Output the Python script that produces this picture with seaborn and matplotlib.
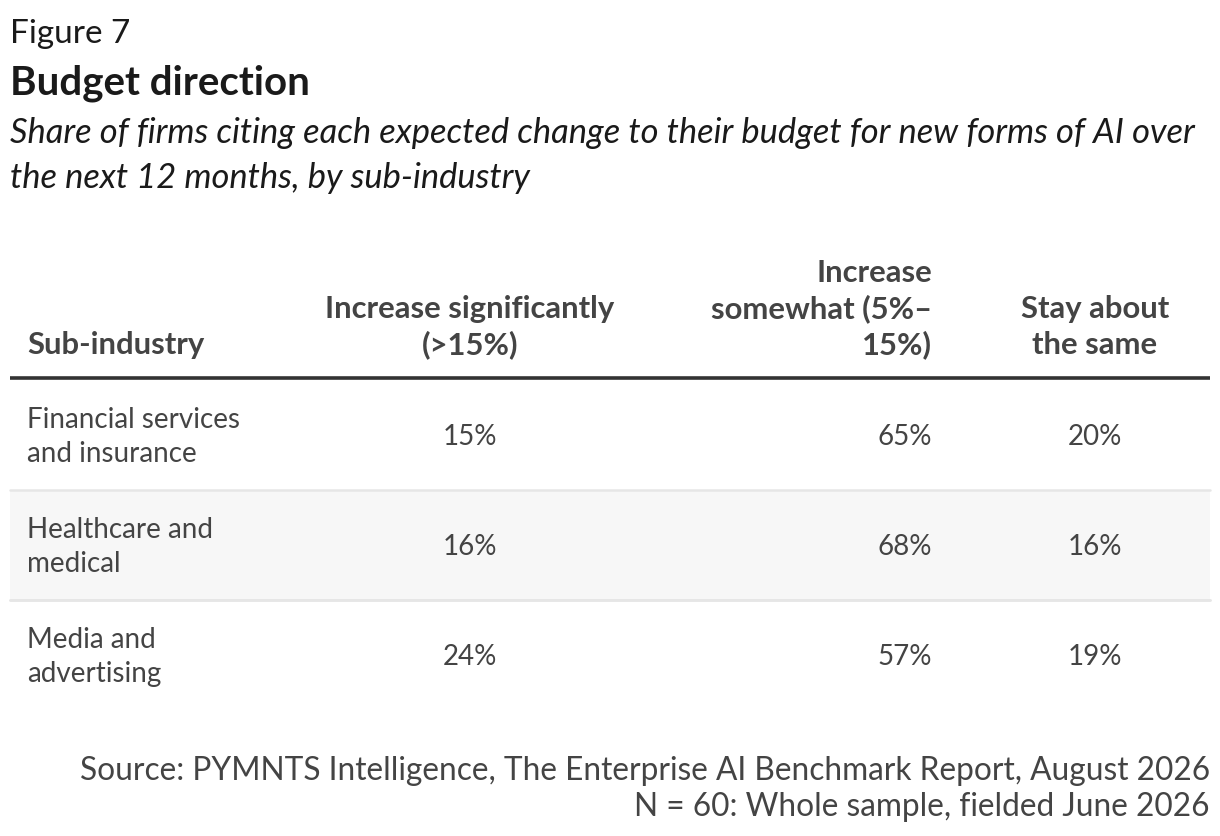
import matplotlib
matplotlib.use("Agg")
import matplotlib.pyplot as plt
import pandas as pd
import seaborn as sns

# table contents
sub_industries = ["Financial services\nand insurance", "Healthcare and\nmedical", "Media and\nadvertising"]
increase_significantly = [15, 16, 24]
increase_somewhat = [65, 68, 57]
stay_same = [20, 16, 19]
column_headers = ["Sub-industry", "Increase significantly\n(>15%)", "Increase\nsomewhat (5%–\n15%)", "Stay about\nthe same"]

fig_label = "Figure 7"
title = "Budget direction"
subtitle = ["Share of firms citing each expected change to their budget for new forms of AI over",
            "the next 12 months, by sub-industry"]
source = ["Source: PYMNTS Intelligence, The Enterprise AI Benchmark Report, August 2026",
          "N = 60: Whole sample, fielded June 2026"]

df = pd.DataFrame({
    "sub_industry": sub_industries,
    "significantly": increase_significantly,
    "somewhat": increase_somewhat,
    "same": stay_same,
})

sns.set_theme(style="white")
plt.rcParams["font.family"] = ["Lato", "DejaVu Sans"]

TITLE_C = "#1a1a1a"
TEXT_C = "#444444"

fig = plt.figure(figsize=(12.2, 8.36), dpi=100)
ax = fig.add_axes([0, 0, 1, 1])
ax.set_xlim(0, 1220)
ax.set_ylim(836, 0)
ax.axis("off")

# header block
ax.text(10, 34, fig_label, fontsize=24, color=TITLE_C, va="center", ha="left")
ax.text(10, 83, title, fontsize=29, fontweight="bold", color=TITLE_C, va="center", ha="left")
for i, line in enumerate(subtitle):
    ax.text(10, 133 + i * 45, line, fontsize=24.8, style="italic", color=TITLE_C, va="center", ha="left")

# column layout: (x, ha)
cols = [(27, "left"), (470, "center"), (932, "right"), (1095, "center")]
header_bottom = 345
header_step = 36
for (x, ha), head in zip(cols, column_headers):
    lines = head.split("\n")
    for j, line in enumerate(lines):
        y = header_bottom - (len(lines) - 1 - j) * header_step
        ax.text(x, y, line, fontsize=22.3, fontweight="bold", color=TEXT_C, va="center", ha=ha)

ax.plot([10, 1210], [378, 378], color="#333333", lw=2.6, solid_capstyle="butt")

# body rows
row_top = 380
row_h = 110
for r, row in df.iterrows():
    top = row_top + r * row_h
    mid = top + row_h / 2 + 2
    if r % 2 == 1:
        ax.fill_between([10, 1210], top + 0, top + row_h, color="#f7f7f7", lw=0)
    if r > 0:
        ax.plot([10, 1210], [top, top], color="#e6e6e6", lw=1.8)
    name_lines = row["sub_industry"].split("\n")
    for j, line in enumerate(name_lines):
        ax.text(cols[0][0], mid - 17 + j * 34, line, fontsize=20, color=TEXT_C, va="center", ha="left")
    for (x, ha), key in zip(cols[1:], ["significantly", "somewhat", "same"]):
        ax.text(x, mid, f"{row[key]}%", fontsize=20, color=TEXT_C, va="center", ha=ha)
    if r % 2 == 1:
        ax.plot([10, 1210], [top + row_h, top + row_h], color="#e6e6e6", lw=1.8)

for i, line in enumerate(source):
    ax.text(1210, 771 + i * 36, line, fontsize=22.8, color=TEXT_C, va="center", ha="right")

fig.savefig("out.png", dpi=100)
